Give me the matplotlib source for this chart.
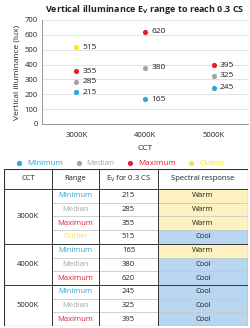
#!/usr/bin/env python3
import numpy as np
import matplotlib
matplotlib.use('Agg')
import matplotlib.pyplot as plt
from matplotlib.patches import Rectangle

plt.rcParams['font.family'] = ['Open Sans', 'DejaVu Sans']
plt.rcParams['mathtext.fontset'] = 'custom'
plt.rcParams['mathtext.rm'] = 'Open Sans'

# Data
cct = ['3000K', '4000K', '5000K']
minimum = [215, 165, 245]
median = [285, 380, 325]
maximum = [355, 620, 395]
outlier = [515, np.nan, np.nan]

series_names = ['Minimum', 'Median', 'Maximum', 'Outlier']
series_values = [minimum, median, maximum, outlier]
series_colors = ['#2aa7df', '#a3a3a3', '#e2202c', '#f6e62b']

# Table rows
table_ranges = ['Minimum', 'Median', 'Maximum', 'Outlier',
                'Minimum', 'Median', 'Maximum',
                'Minimum', 'Median', 'Maximum']
table_cct_groups = [('3000K', 4), ('4000K', 3), ('5000K', 3)]
table_values = [215, 285, 355, 515, 165, 380, 620, 245, 325, 395]
table_response = ['Warm', 'Warm', 'Warm', 'Cool', 'Warm',
                  'Cool', 'Cool', 'Cool', 'Cool', 'Cool']

warm_fill = '#fcf1bf'
cool_fill = '#b9d6f1'
color_of = dict(zip(series_names, series_colors))

fig = plt.figure(figsize=(2.5, 3.28), dpi=100)

# ---- scatter chart ----
ax = fig.add_axes([42/250, 1 - 124/328, 206/250, 104/328])
x = np.arange(len(cct))
for name, vals, col in zip(series_names, series_values, series_colors):
    ax.scatter(x, vals, s=14, color=col, label=name, zorder=3, linewidths=0)
    for xi, v in zip(x, vals):
        if not np.isnan(v):
            ax.text(xi + 0.09, v, str(int(v)), fontsize=6, va='center',
                    ha='left', color='#222222')

ax.set_xlim(-0.5, 2.5)
ax.set_ylim(0, 700)
ax.set_yticks(range(0, 701, 100))
ax.set_xticks(x)
ax.set_xticklabels(cct)
ax.tick_params(labelsize=5.5, length=0, pad=3, colors='#222222')
ax.tick_params(axis='x', pad=6)
ax.grid(axis='y', color='#dddddd', linewidth=0.6)
ax.set_axisbelow(True)
for s in ['top', 'right']:
    ax.spines[s].set_visible(False)
for s in ['left', 'bottom']:
    ax.spines[s].set_color('#999999')
    ax.spines[s].set_linewidth(0.7)
ax.set_xlabel('CCT', fontsize=6, labelpad=4, color='#222222')
ax.set_ylabel('Vertical illuminance (lux)', fontsize=6, labelpad=3,
              color='#222222')
fig.text(145/250, 1 - 10/328,
         r'Vertical illuminance E$_\mathregular{V}$ range to reach 0.3 CS',
         fontsize=6.5, fontweight='bold', ha='center', va='center',
         color='#222222')

leg = ax.legend(loc='center', bbox_to_anchor=(0.37, -0.375), ncol=4,
                frameon=False, fontsize=5.8, handletextpad=0.0,
                columnspacing=0.9, markerscale=1.0,
                labelcolor='markerfacecolor')

# ---- table ----
tax = fig.add_axes([4/250, 2/328, 244/250, 157/328])
W, H = 244, 157
tax.set_xlim(0, W)
tax.set_ylim(H, 0)
tax.axis('off')

cols = [0, 48, 95, 154, W]
head_h = 20
row_h = (H - head_h) / len(table_values)
fs = 5.5
dark = '#333333'
light = '#c8c8c8'

headers = ['CCT', 'Range', r'E$_\mathregular{V}$ for 0.3 CS',
           'Spectral response']
for i, h in enumerate(headers):
    tax.text((cols[i] + cols[i + 1]) / 2, head_h / 2, h, fontsize=fs,
             ha='center', va='center', color='#222222')

for r in range(len(table_values)):
    y0 = head_h + r * row_h
    fill = warm_fill if table_response[r] == 'Warm' else cool_fill
    tax.add_patch(Rectangle((cols[3], y0), cols[4] - cols[3], row_h,
                            facecolor=fill, edgecolor='none'))
    yc = y0 + row_h / 2
    rng = table_ranges[r]
    tax.text((cols[1] + cols[2]) / 2, yc, rng, fontsize=fs, ha='center',
             va='center', color=color_of[rng])
    tax.text((cols[2] + cols[3]) / 2, yc, str(table_values[r]), fontsize=fs,
             ha='center', va='center', color='#222222')
    tax.text((cols[3] + cols[4]) / 2, yc, table_response[r], fontsize=fs,
             ha='center', va='center', color='#222222')

# inner row lines
for r in range(1, len(table_values)):
    y = head_h + r * row_h
    tax.plot([cols[1], W], [y, y], color=light, lw=0.6)

# group lines and CCT labels
start = 0
for name, n in table_cct_groups:
    y0 = head_h + start * row_h
    y1 = head_h + (start + n) * row_h
    tax.text((cols[0] + cols[1]) / 2, (y0 + y1) / 2, name, fontsize=fs,
             ha='center', va='center', color='#222222')
    tax.plot([0, W], [y0, y0], color=dark, lw=0.7)
    start += n

# vertical lines and outer border
for c in cols[1:-1]:
    tax.plot([c, c], [0, H], color=dark, lw=0.7)
tax.add_patch(Rectangle((0.3, 0.3), W - 0.6, H - 0.6, facecolor='none',
                        edgecolor=dark, lw=0.8))

fig.savefig('out.png', dpi=100)
